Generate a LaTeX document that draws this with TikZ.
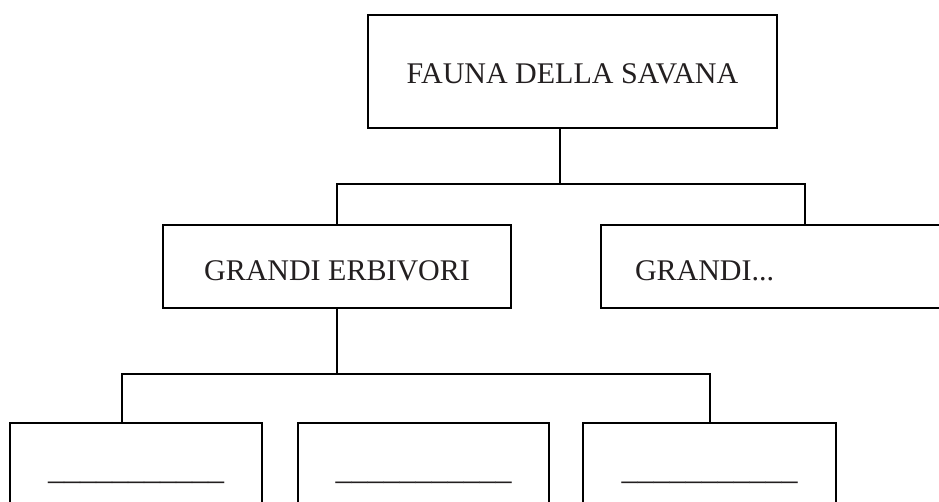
\documentclass[tikz,border=0pt]{standalone}
\usepackage{fontspec}
\setmainfont{Liberation Serif}
\usetikzlibrary{positioning}

\definecolor{ink}{HTML}{231F20}
\tikzset{
  box/.style={draw=black, line width=2pt, text=ink, inner sep=0pt},
  link/.style={draw=black, line width=2pt},
}

\begin{document}
\begin{tikzpicture}[x=1pt, y=-1pt]

\useasboundingbox (0,0) rectangle (939,501);
\clip (0,0) rectangle (939,501);

\fontsize{30}{30}\selectfont
\node [box, minimum width=409pt, minimum height=113pt, text height=23pt, text depth=0pt] (fauna) at (572.5,71.5) {FAUNA DELLA SAVANA};
\node [box, minimum width=348pt, minimum height=83pt, text height=28pt, text depth=0pt] (erbivori) at (337,266.5) {GRANDI ERBIVORI};
\node [box, text width=340pt, align=left, inner xsep=34pt, minimum height=83pt, text height=28pt, text depth=0pt] (altri) at (805,266.5) {GRANDI...};

% caselle da completare
\fontsize{32}{32}\selectfont
\node [box, minimum width=252pt, minimum height=112pt, text height=0pt, text depth=0pt] (primo) at (136,479) {\_\_\_\_\_\_\_\_\_\_\_};
\node [box, minimum width=251pt, minimum height=112pt, text height=0pt, text depth=0pt] (secondo) at (423.5,479) {\_\_\_\_\_\_\_\_\_\_\_};
\node [box, minimum width=253pt, minimum height=112pt, text height=0pt, text depth=0pt] (terzo) at (709.5,479) {\_\_\_\_\_\_\_\_\_\_\_};

\coordinate (snodo) at (560,184);
\coordinate (ramo) at (337,374);

\draw [link] (fauna.south -| snodo) -- (snodo);
\draw [link] (erbivori.north) |- (snodo) -| (altri.north);
\draw [link] (erbivori.south) -- (ramo);
\draw [link] ([xshift=-14pt]primo.north) |- (ramo) -| (terzo.north);

\end{tikzpicture}
\end{document}
